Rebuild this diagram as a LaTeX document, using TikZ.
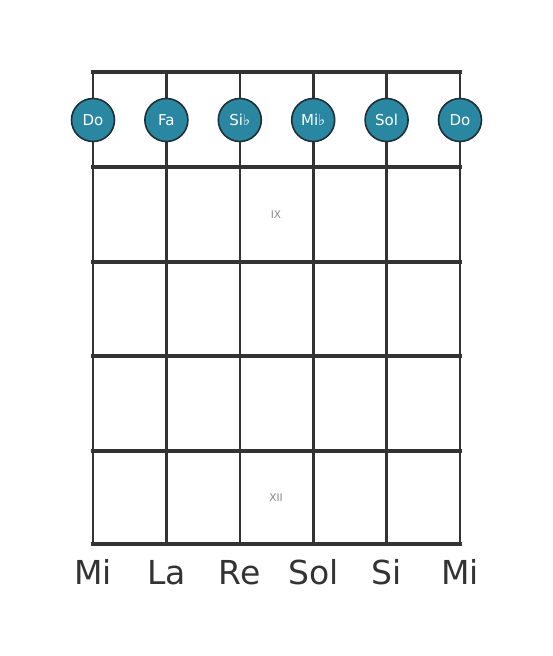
\documentclass[tikz,border=0pt]{standalone}
\usepackage{fontspec}
\setmainfont{DejaVu Sans}
\definecolor{linec}{HTML}{333333}
\definecolor{notefill}{HTML}{2A87A2}
\definecolor{noteedge}{HTML}{1F2F36}
\definecolor{romanc}{HTML}{888888}
\begin{document}
\begin{tikzpicture}[x=1pt,y=-1pt,
  stringline/.style={draw=linec,line width=2.6pt},
  fretline/.style={draw=linec,line width=4pt},
  note/.style={circle,draw=noteedge,line width=1.6pt,fill=notefill,minimum size=43pt,inner sep=0pt,text=white,font=\fontsize{15}{15}\selectfont},
  roman/.style={text=romanc,font=\fontsize{10.5}{10.5}\selectfont},
  strname/.style={text=linec,font=\fontsize{33}{33}\selectfont,anchor=base}]
\useasboundingbox (0,0) rectangle (553,656);
\foreach \i/\x in {1/93,2/166.4,3/239.8,4/313.2,5/386.6,6/460}{
  \coordinate (t\i) at (\x,72);
  \coordinate (b\i) at (\x,544);
  \draw[stringline] (t\i) -- (b\i);
}
\foreach \j/\y in {0/72,1/167,2/261.5,3/356,4/450.5,5/544}{
  \coordinate (fl\j) at (93,\y);
  \coordinate (fr\j) at (460,\y);
  \draw[fretline,line cap=rect] (fl\j) -- (fr\j);
}
\node[note] (n1) at (93,120) {Do};
\node[note] (n2) at (166.4,120) {Fa};
\node[note] (n3) at (239.8,120) {Si♭};
\node[note] (n4) at (313.2,120) {Mi♭};
\node[note] (n5) at (386.6,120) {Sol};
\node[note] (n6) at (460,120) {Do};
\node[roman] (r9) at (276,215) {IX};
\node[roman] (r12) at (276,498) {XII};
\node[strname] (s1) at (93,584) {Mi};
\node[strname] (s2) at (166.4,584) {La};
\node[strname] (s3) at (239.8,584) {Re};
\node[strname] (s4) at (313.2,584) {Sol};
\node[strname] (s5) at (386.6,584) {Si};
\node[strname] (s6) at (460,584) {Mi};
\end{tikzpicture}
\end{document}
